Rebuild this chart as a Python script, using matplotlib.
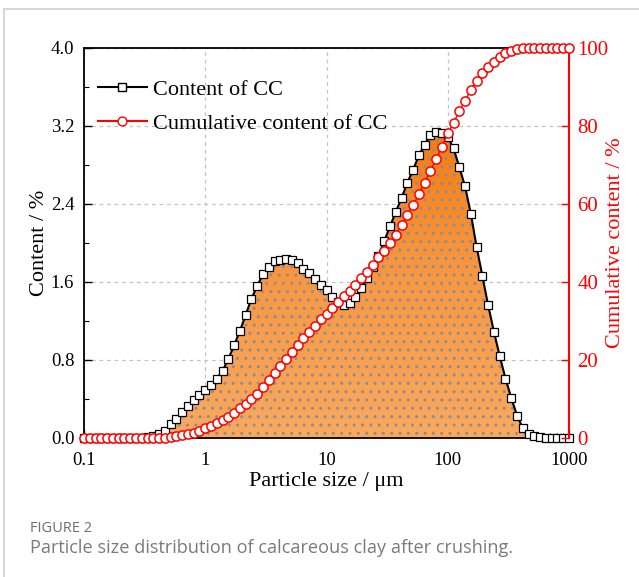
import numpy as np
import matplotlib.pyplot as plt
from matplotlib.colors import LinearSegmentedColormap
from matplotlib.patches import Rectangle
from matplotlib.lines import Line2D

# size classes (um), 21 per decade from 0.1 to 1000
mantissa = [1.000, 1.116, 1.245, 1.389, 1.551, 1.730, 1.931, 2.154, 2.404, 2.683, 2.994,
            3.341, 3.728, 4.160, 4.642, 5.180, 5.780, 6.450, 7.197, 8.031, 8.962]
size_um = [round(m * 10.0 ** d, 4) for d in (-1, 0, 1, 2) for m in mantissa] + [1000.0]

# content of CC (%) per size class
content = [0, 0, 0, 0, 0, 0, 0, 0, 0, 0, 0,
           0.01, 0.02, 0.04, 0.07, 0.14, 0.20, 0.27, 0.33, 0.39, 0.44,
           0.49, 0.54, 0.61, 0.69, 0.81, 0.95, 1.10, 1.26, 1.43, 1.56,
           1.68, 1.75, 1.82, 1.83, 1.84, 1.83, 1.79, 1.73, 1.69, 1.63,
           1.57, 1.52, 1.45, 1.39, 1.36, 1.38, 1.45, 1.54, 1.64, 1.75,
           1.87, 2.02, 2.17, 2.32, 2.46, 2.62, 2.75, 2.90, 3.01, 3.11,
           3.14, 3.13, 3.09, 2.97, 2.78, 2.58, 2.30, 1.96, 1.66, 1.36,
           1.09, 0.84, 0.61, 0.41, 0.23, 0.10, 0.04, 0.02, 0.01,
           0, 0, 0, 0, 0]

# cumulative content of CC (%)
cumulative = [0, 0, 0, 0, 0, 0, 0, 0, 0, 0, 0, 0, 0,
              0.05, 0.1, 0.25, 0.45, 0.7, 0.95, 1.2, 1.9, 2.5, 3.2, 3.8, 4.6,
              5.5, 6.5, 7.6, 8.6, 9.9, 11.4, 13.0, 14.9, 16.6, 18.5, 20.3,
              22.1, 23.8, 25.6, 27.1, 28.7, 30.4, 31.8, 33.4, 35.0, 36.4,
              37.8, 39.3, 41.0, 42.6, 44.4, 46.3, 48.0, 50.1, 52.1, 54.6,
              57.2, 59.7, 62.5, 65.5, 68.5, 71.5, 74.7, 78.1, 80.8, 83.8,
              86.5, 89.2, 91.6, 93.5, 95.2, 96.5, 97.8, 98.8, 99.3, 99.7, 99.9,
              100, 100, 100, 100, 100, 100, 100, 100]

x_ticks = [0.1, 1, 10, 100, 1000]
x_ticklabels = ["0.1", "1", "10", "100", "1000"]
y_ticks = [0.0, 0.8, 1.6, 2.4, 3.2, 4.0]
y2_ticks = [0, 20, 40, 60, 80, 100]

plt.rcParams['font.family'] = ['Liberation Serif', 'DejaVu Serif']

fig = plt.figure(figsize=(6.39, 5.77), dpi=100)
ax = fig.add_axes([84 / 639, 1 - 438 / 577, 485 / 639, 390 / 577])

ax.set_xscale('log')
ax.set_xlim(0.1, 1000)
ax.set_ylim(0, 4.0)
ax.set_autoscale_on(False)

ax.grid(True, which='major', color='#c4c4c4', linestyle=(0, (3, 3)), linewidth=0.9, zorder=0)
ax.set_axisbelow(True)

# orange gradient fill under the content curve
poly = ax.fill_between(size_um, content, 0, facecolor='none', edgecolor='none', zorder=1)
cmap = LinearSegmentedColormap.from_list('org', [(0, '#faa95f'), (0.45, '#f8963f'), (0.8, '#f47a0e'), (1, '#f47a0e')])
grad = np.linspace(0, 1, 256).reshape(-1, 1)
im = ax.imshow(grad, extent=[0, 1, 0, 1], transform=ax.transAxes, origin='lower',
               cmap=cmap, aspect='auto', zorder=1)
im.set_clip_path(poly.get_paths()[0], transform=ax.transData)
ax.fill_between(size_um, content, 0, facecolor='none', edgecolor='#8a8e94',
                linewidth=0, hatch='..', zorder=2)

ax.plot(size_um, content, color='black', lw=1.5, marker='s', ms=5.6, mfc='white',
        mec='black', mew=0.9, zorder=4, clip_on=False)

ax.set_xticks(x_ticks)
ax.set_xticklabels(x_ticklabels)
ax.set_yticks(y_ticks)
ax.set_yticklabels([f"{v:.1f}" for v in y_ticks])
ax.set_yticks(np.arange(0.4, 4.0, 0.8), minor=True)
ax.tick_params(axis='both', which='both', direction='in', labelsize=13.5)
ax.tick_params(axis='both', which='major', length=6, width=1)
ax.tick_params(axis='both', which='minor', length=3.5, width=0.8)
ax.tick_params(axis='x', which='major', pad=10)
ax.tick_params(axis='y', which='major', pad=7)
ax.set_xlabel("Particle size / μm", fontsize=16, labelpad=2)
ax.set_ylabel("Content / %", fontsize=16, labelpad=1)
for s in ['left', 'bottom', 'top']:
    ax.spines[s].set_linewidth(1.3)
ax.spines['right'].set_visible(False)

ax2 = ax.twinx()
ax2.set_ylim(0, 100)
ax2.plot(size_um, cumulative, color='red', lw=1, marker='o', ms=6.6, mfc='white',
         mec='red', mew=1.1, zorder=5, clip_on=False)
ax2.set_yticks(y2_ticks)
ax2.tick_params(axis='y', which='major', direction='in', length=6, width=1,
                colors='red', labelsize=15, pad=6)
ax2.spines['right'].set_color('red')
ax2.spines['right'].set_linewidth(1.5)
for s in ['left', 'bottom', 'top']:
    ax2.spines[s].set_visible(False)
ax2.set_ylabel("Cumulative content / %", fontsize=16, color='red', labelpad=-2)

handles = [Line2D([], [], color='black', lw=1.5, marker='s', ms=5.8, mfc='white', mec='black'),
           Line2D([], [], color='red', lw=1.5, marker='o', ms=6.4, mfc='white', mec='red')]
ax2.legend(handles, ["Content of CC", "Cumulative content of CC"], loc='upper left',
           bbox_to_anchor=(14 / 485, 1 - 31 / 390), frameon=False, fontsize=16, handlelength=2.2,
           handletextpad=0.27, labelspacing=0.63, borderaxespad=0, borderpad=0)

# outer frame and caption
fig.patches.append(Rectangle((4 / 639, -0.05), 1.1, 1 - 9 / 577 + 0.05, transform=fig.transFigure,
                             facecolor='none', edgecolor='#cfcfcf', linewidth=1.2))
fig.text(30 / 639, 1 - 528 / 577, "FIGURE 2", fontsize=10.5, color='#6e6e6e',
         family=['Open Sans', 'DejaVu Sans'], va='center', ha='left')
fig.text(30 / 639, 1 - 548 / 577, "Particle size distribution of calcareous clay after crushing.",
         fontsize=13.1, color='#7a7a7a', family=['Open Sans', 'DejaVu Sans'], va='center', ha='left')

fig.savefig('out.png', dpi=100)
